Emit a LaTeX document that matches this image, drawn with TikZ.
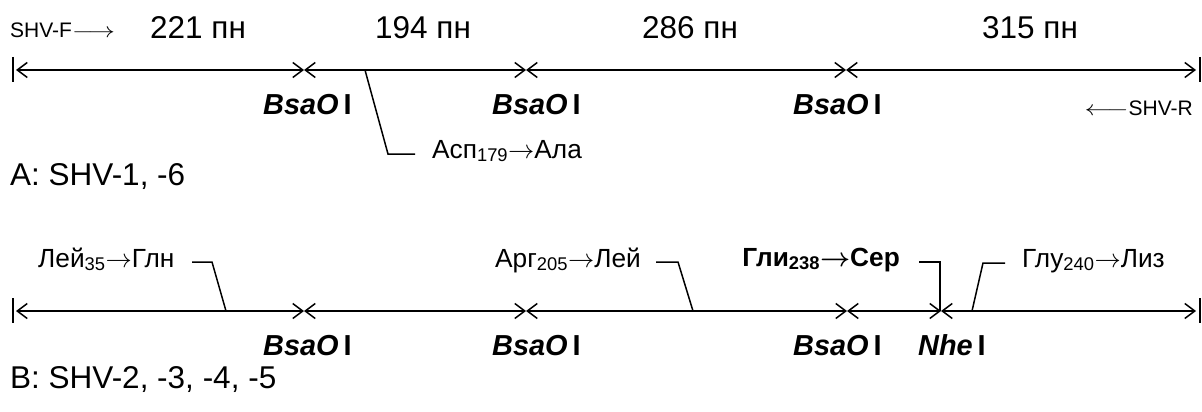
\RequirePackage{fix-cm}
\documentclass[tikz,border=0pt]{standalone}
\usepackage{fontspec}
\setmainfont{Liberation Sans}
\usepackage{bm}
\usetikzlibrary{arrows.meta}
\newcommand\bigfont{\fontsize{31.5}{36}\selectfont}
\newcommand\enzfont{\fontsize{28.9}{33}\selectfont}
\newcommand\mutfont{\fontsize{26.25}{30}\selectfont}
\newcommand\smallfont{\fontsize{21}{24}\selectfont}
\newcommand\enz[2]{\textbf{\textit{#1}\,#2}}
\begin{document}
\begin{tikzpicture}[x=1pt,y=-1pt,
  seg/.style={line width=1.6pt,{Straight Barb[length=10pt,width=15pt,line width=1.5pt]}-{Straight Barb[length=10pt,width=15pt,line width=1.5pt]}},
  endbar/.style={line width=2pt},
  leader/.style={line width=1.5pt},
  txt/.style={inner sep=0pt,anchor=base west},
  txte/.style={inner sep=0pt,anchor=base east}]
\useasboundingbox (0,0) rectangle (1202,412);
% --- row A ---
\coordinate (a0) at (16,70);
\coordinate (a1) at (304,70);
\coordinate (a2) at (526,70);
\coordinate (a3) at (846,70);
\coordinate (a4) at (1196,70);
\coordinate (barAl) at (12.5,70);
\coordinate (barAr) at (1199.5,70);
\draw[seg] (a0) -- (a1);
\draw[seg] (a1) -- (a2);
\draw[seg] (a2) -- (a3);
\draw[seg] (a3) -- (a4);
\draw[endbar] ([yshift=13pt]barAl) -- ([yshift=-12pt]barAl);
\draw[endbar] ([yshift=13pt]barAr) -- ([yshift=-12pt]barAr);
\node[txt,font=\smallfont] (shvf) at (10,38) {SHV-F\scalebox{1.27}[1]{$\longrightarrow$}};
\node[txt,font=\bigfont] (l221) at (150,39) {221 пн};
\node[txt,font=\bigfont] (l194) at (375,39) {194 пн};
\node[txt,font=\bigfont] (l286) at (642,39) {286 пн};
\node[txt,font=\bigfont] (l315) at (982,39) {315 пн};
\node[txt,font=\enzfont] (eA1) at (263,114) {\enz{BsaO}{I}};
\node[txt,font=\enzfont] (eA2) at (492,114) {\enz{BsaO}{I}};
\node[txt,font=\enzfont] (eA3) at (793,114) {\enz{BsaO}{I}};
\node[txte,font=\smallfont] (shvr) at (1193,115) {\scalebox{1.3}[1]{$\longleftarrow$}SHV-R};
\coordinate (mA) at (365,70);
\node[txt,font=\mutfont] (mutA) at (432,158) {Асп\textsubscript{179}$\rightarrow$Ала};
\draw[leader] (mA) -- (388,154) -- (415,154);
\node[txt,font=\bigfont] (capA) at (10,185) {A: SHV-1, -6};
% --- row B ---
\coordinate (b0) at (16,311);
\coordinate (b1) at (304,311);
\coordinate (b2) at (526,311);
\coordinate (b3) at (847,311);
\coordinate (b4) at (941,311);
\coordinate (b5) at (1196,311);
\coordinate (barBl) at (12.5,311);
\coordinate (barBr) at (1199.5,311);
\draw[seg] (b0) -- (b1);
\draw[seg] (b1) -- (b2);
\draw[seg] (b2) -- (b3);
\draw[seg] (b3) -- (b4);
\draw[seg] (b4) -- (b5);
\draw[endbar] ([yshift=13pt]barBl) -- ([yshift=-12pt]barBl);
\draw[endbar] ([yshift=13pt]barBr) -- ([yshift=-12pt]barBr);
\node[txt,font=\mutfont] (mutB1) at (38,267) {Лей\textsubscript{35}$\rightarrow$Глн};
\node[txt,font=\mutfont] (mutB2) at (495,267) {Арг\textsubscript{205}$\rightarrow$Лей};
\node[txte,font=\mutfont] (mutB3) at (900,266) {\textbf{Гли\textsubscript{238}$\bm{\rightarrow}$Сер}};
\node[txt,font=\mutfont] (mutB4) at (1022,267) {Глу\textsubscript{240}$\rightarrow$Лиз};
\coordinate (mB1) at (226,311);
\coordinate (mB2) at (693,311);
\coordinate (mB3) at (940,311);
\coordinate (mB4) at (972,311);
\draw[leader] (192,262) -- (212,262) -- (mB1);
\draw[leader] (656,262) -- (678,262) -- (mB2);
\draw[leader] (919,262) -- (940,262) -- (mB3);
\draw[leader] (mB4) -- (983,263) -- (1005,263);
\node[txt,font=\enzfont] (eB1) at (263,355) {\enz{BsaO}{I}};
\node[txt,font=\enzfont] (eB2) at (492,355) {\enz{BsaO}{I}};
\node[txt,font=\enzfont] (eB3) at (793,355) {\enz{BsaO}{I}};
\node[txt,font=\enzfont] (eB4) at (918,355) {\enz{Nhe}{I}};
\node[txt,font=\bigfont] (capB) at (10,388) {B: SHV-2, -3, -4, -5};
\end{tikzpicture}
\end{document}
